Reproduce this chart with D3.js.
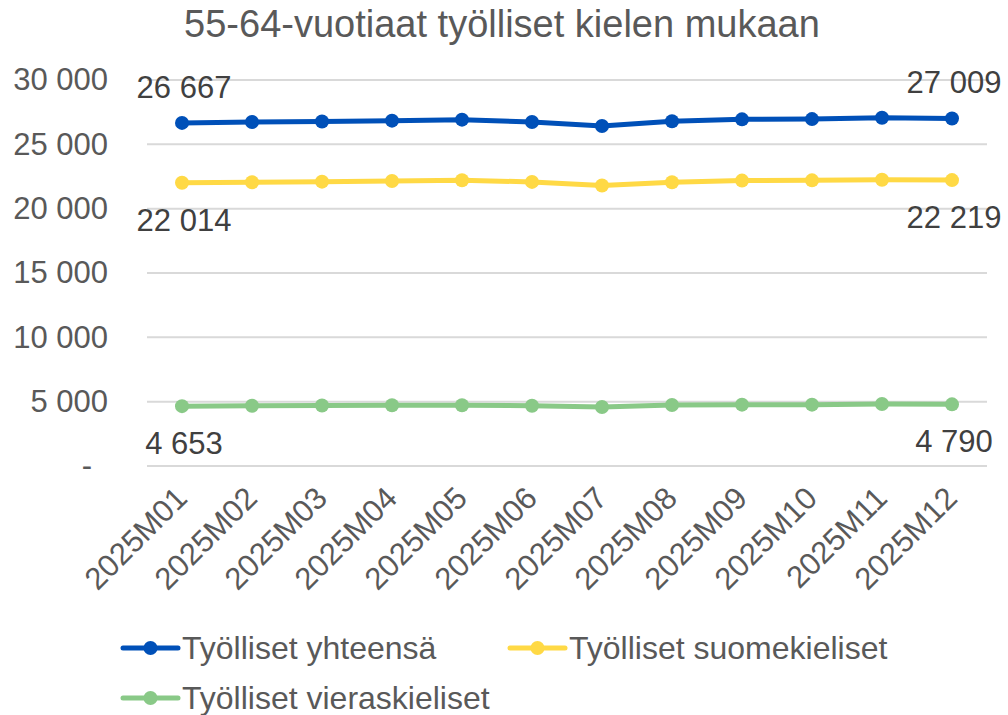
<!DOCTYPE html>
<html>
<head>
<meta charset="utf-8">
<script src="https://cdn.jsdelivr.net/npm/d3@7"></script>
<style>
  body { margin: 0; background: #fff; }
  text { font-family: "Liberation Sans", Arial, sans-serif; }
</style>
</head>
<body>
<div id="chart-area"></div>
<script>
const months = ["2025M01", "2025M02", "2025M03", "2025M04", "2025M05", "2025M06",
  "2025M07", "2025M08", "2025M09", "2025M10", "2025M11", "2025M12"];
const totalValues = [26667, 26730, 26770, 26840, 26920, 26730, 26420, 26790, 26940, 26960, 27070, 27009];
const finnishValues = [22014, 22050, 22100, 22150, 22210, 22080, 21800, 22050, 22180, 22200, 22250, 22219];
const foreignValues = [4653, 4680, 4700, 4720, 4720, 4680, 4580, 4740, 4770, 4770, 4820, 4790];
const seriesNames = ["Työlliset yhteensä", "Työlliset suomekieliset", "Työlliset vieraskieliset"];
const yTicks = [0, 5000, 10000, 15000, 20000, 25000, 30000];

const width = 1008, height = 715;
const plot = {left: 147, right: 987, top: 80, bottom: 466};
const colors = ["#0050b8", "#ffd945", "#89c987"];

const fi = d3.formatLocale({decimal: ",", thousands: " ", grouping: [3], currency: ["", ""]});
const fmt = fi.format(",d");

const svg = d3.select("#chart-area").append("svg")
  .attr("width", width)
  .attr("height", height);

// Scales
const x = d3.scalePoint().domain(months).range([plot.left, plot.right]).padding(0.5);
const y = d3.scaleLinear().domain([0, 30000]).range([plot.bottom, plot.top]);

// Title
svg.append("text")
  .attr("x", 502)
  .attr("y", 37)
  .attr("text-anchor", "middle")
  .attr("font-size", "38px")
  .attr("fill", "#595959")
  .text("55-64-vuotiaat työlliset kielen mukaan");

// Gridlines
svg.append("g")
  .selectAll("line")
  .data(yTicks)
  .join("line")
  .attr("x1", plot.left)
  .attr("x2", plot.right)
  .attr("y1", d => y(d))
  .attr("y2", d => y(d))
  .attr("stroke", "#d9d9d9")
  .attr("stroke-width", 2);

// Y axis
const yAxis = svg.append("g")
  .attr("transform", "translate(" + 118 + ",0)")
  .call(d3.axisLeft(y).tickValues(yTicks).tickSize(0).tickPadding(10)
    .tickFormat(d => d === 0 ? "-" : fmt(d)));
yAxis.select(".domain").remove();
yAxis.selectAll("text")
  .attr("font-size", "31px")
  .attr("fill", "#595959")
  .attr("font-family", "Liberation Sans, Arial, sans-serif");
yAxis.selectAll(".tick").filter(d => d === 0).select("text").attr("x", -26);

// X axis labels
svg.append("g")
  .selectAll("text")
  .data(months)
  .join("text")
  .attr("transform", d => "translate(" + (x(d) + 7) + ",500) rotate(-45)")
  .attr("text-anchor", "end")
  .attr("font-size", "31px")
  .attr("fill", "#595959")
  .text(d => d);

// Lines and markers
const seriesList = [totalValues, finnishValues, foreignValues];
const line = d3.line()
  .x((d, i) => x(months[i]))
  .y(d => y(d));

seriesList.forEach((values, s) => {
  svg.append("path")
    .attr("fill", "none")
    .attr("stroke", colors[s])
    .attr("stroke-width", 5)
    .attr("stroke-linejoin", "round")
    .attr("d", line(values));

  svg.append("g")
    .selectAll("circle")
    .data(values)
    .join("circle")
    .attr("cx", (d, i) => x(months[i]))
    .attr("cy", d => y(d))
    .attr("r", 7)
    .attr("fill", colors[s]);

  // First and last value labels
  const ends = [0, values.length - 1];
  svg.append("g")
    .selectAll("text")
    .data(ends)
    .join("text")
    .attr("x", i => x(months[i]) + 2)
    .attr("y", i => y(values[i]) + (s === 0 ? -25 : 48))
    .attr("text-anchor", "middle")
    .attr("font-size", "31px")
    .attr("fill", "#404040")
    .text(i => fmt(values[i]));
});

// Legend
const legendPos = [[123, 648], [510, 648], [123, 698]];
const legend = svg.append("g")
  .selectAll("g")
  .data(seriesNames)
  .join("g")
  .attr("transform", (d, i) => "translate(" + legendPos[i][0] + "," + legendPos[i][1] + ")");

legend.append("line")
  .attr("x1", 0)
  .attr("x2", 55)
  .attr("stroke", (d, i) => colors[i])
  .attr("stroke-width", 5)
  .attr("stroke-linecap", "round");

legend.append("circle")
  .attr("cx", 27.5)
  .attr("r", 7)
  .attr("fill", (d, i) => colors[i]);

legend.append("text")
  .attr("x", 59)
  .attr("dy", "0.35em")
  .attr("font-size", "32px")
  .attr("fill", "#595959")
  .text(d => d);
</script>
</body>
</html>
